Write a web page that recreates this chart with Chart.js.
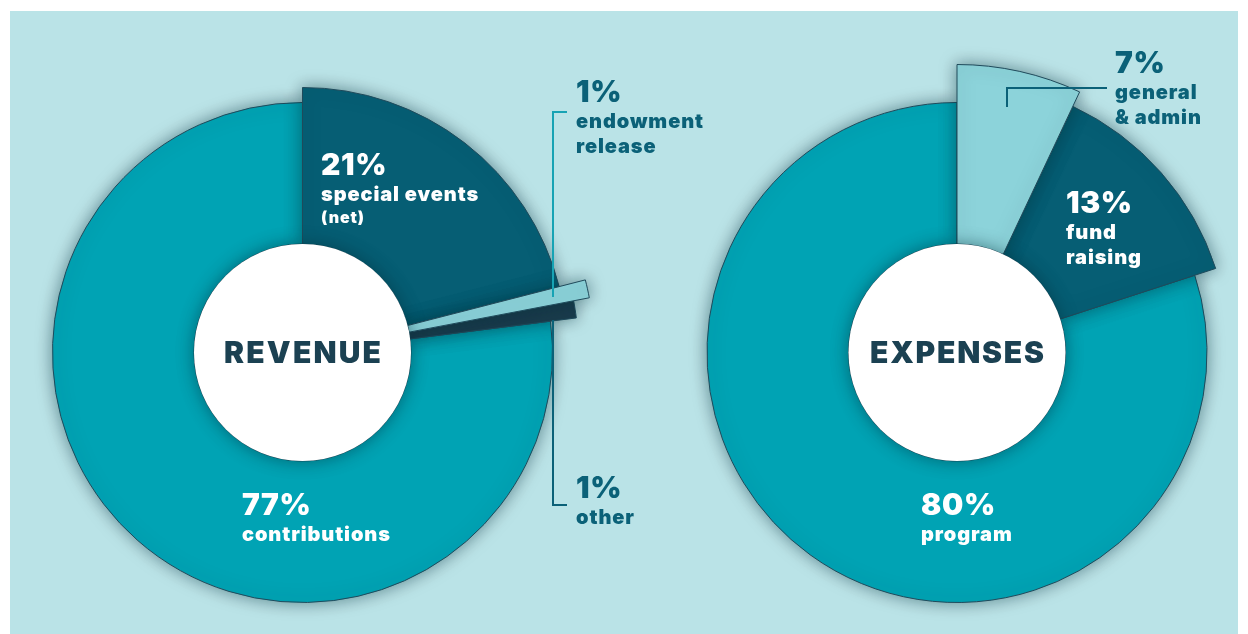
<!DOCTYPE html>
<html lang="en">
<head>
<meta charset="UTF-8">
<title>Revenue and Expenses</title>
<script src="https://cdn.jsdelivr.net/npm/chart.js"></script>
<style>
  html, body { margin: 0; padding: 0; background: #fff; }
  body { width: 1248px; height: 634px; position: relative; overflow: hidden; }
  .panel { position: absolute; left: 10px; top: 11px; width: 1228px; height: 623px; background: #bae3e7; }
  canvas { position: absolute; left: 0; top: 0; }
</style>
</head>
<body>
<div class="panel"></div>
<canvas id="revenueChart" width="1248" height="634"></canvas>
<canvas id="expensesChart" width="1248" height="634"></canvas>

<script>
// ---- data ----
const revenueTitle = 'REVENUE';
const revenueCategories = [['special events', '(net)'], ['endowment', 'release'], ['other'], ['contributions']];
const revenueValues = [21, 1, 1, 77];

const expensesTitle = 'EXPENSES';
const expensesCategories = [['general', '& admin'], ['fund', 'raising'], ['program']];
const expensesValues = [7, 13, 80];

// ---- look ----
const FONT = 'Inter, "Open Sans", sans-serif';
const WHITE = '#ffffff';
const DARK_TEAL = '#0b6178';

const revenueStyle = {
  colors: ['#065e74', '#8cd3da', '#1b3d4e', '#00a3b4'],
  radii: [265, 292, 276, 250],
  order: [3, 0, 2, 1],            // draw order, top-most last
  titleSpacing: 2.2,
  labels: [
    { x: 321, y: 175, color: WHITE },
    { x: 576, y: 102, color: DARK_TEAL, leader: [[567, 112], [553, 112], [553, 297]], leaderColor: '#17a3b4' },
    { x: 576, y: 498, color: DARK_TEAL, leader: [[553, 320], [553, 505], [567, 505]], leaderColor: DARK_TEAL },
    { x: 242, y: 515, color: WHITE }
  ]
};

const expensesStyle = {
  colors: ['#8cd3da', '#065e74', '#00a3b4'],
  radii: [288, 272, 250],
  order: [2, 1, 0],
  titleSpacing: 1.8,
  labels: [
    { x: 1115, y: 73, color: DARK_TEAL, leader: [[1107, 88], [1007, 88], [1007, 107]], leaderColor: DARK_TEAL },
    { x: 1066, y: 213, color: WHITE },
    { x: 921, y: 515, color: WHITE }
  ]
};

// per-slice radius, shadows, white hole, labels
const pieStyle = {
  id: 'pieStyle',
  afterDatasetsUpdate(chart, args, opts) {
    const meta = chart.getDatasetMeta(0);
    meta.data.forEach((arc, i) => { arc.outerRadius = opts.radii[i]; });
  },
  beforeDatasetDraw(chart, args, opts) {
    const ctx = chart.ctx;
    const arcs = args.meta.data;
    ctx.save();
    ctx.shadowColor = 'rgba(0, 45, 55, 0.5)';
    ctx.shadowBlur = 16;
    opts.order.forEach(i => arcs[i].draw(ctx));
    const a = arcs[0];
    ctx.beginPath();
    ctx.arc(a.x, a.y, a.innerRadius, 0, Math.PI * 2);
    ctx.fillStyle = '#ffffff';
    ctx.fill();
    ctx.restore();
    return false;
  },
  afterDraw(chart, args, opts) {
    const ctx = chart.ctx;
    const ds = chart.data.datasets[0];
    const arc = chart.getDatasetMeta(0).data[0];
    ctx.save();
    ctx.textBaseline = 'alphabetic';

    // center title
    ctx.textAlign = 'center';
    ctx.fillStyle = '#1b4152';
    ctx.font = '900 30px ' + FONT;
    ctx.letterSpacing = opts.titleSpacing + 'px';
    ctx.fillText(ds.label, arc.x + opts.titleSpacing / 2, arc.y + 10);

    ctx.textAlign = 'left';
    chart.data.labels.forEach((lines, i) => {
      const lab = opts.labels[i];
      if (lab.leader) {
        ctx.beginPath();
        lab.leader.forEach(([x, y], k) => k ? ctx.lineTo(x, y) : ctx.moveTo(x, y));
        ctx.strokeStyle = lab.leaderColor;
        ctx.lineWidth = 2;
        ctx.stroke();
      }
      ctx.fillStyle = lab.color;
      ctx.font = '900 30px ' + FONT;
      ctx.letterSpacing = '0.6px';
      ctx.fillText(ds.data[i] + '%', lab.x, lab.y);
      ctx.letterSpacing = '0.9px';
      let y = lab.y;
      lines.forEach((line, k) => {
        const small = line.startsWith('(');
        y += k === 0 ? 26 : (small ? 22 : 25);
        ctx.font = (small ? '900 16px ' : '900 20px ') + FONT;
        ctx.fillText(line, lab.x, y);
      });
    });
    ctx.restore();
  }
};

function makeChart(id, title, categories, values, style, padding) {
  return new Chart(document.getElementById(id), {
    type: 'doughnut',
    data: {
      labels: categories,
      datasets: [{
        label: title,
        data: values,
        backgroundColor: style.colors,
        borderColor: '#1f4a5b',
        borderWidth: 1,
        radius: 250,
        cutout: '43.4%',
        clip: false
      }]
    },
    options: {
      responsive: false,
      animation: false,
      events: [],
      layout: { padding: padding },
      plugins: {
        legend: { display: false },
        tooltip: { enabled: false },
        pieStyle: style
      }
    },
    plugins: [pieStyle]
  });
}

// chart areas chosen so the centres land at (302.5, 352.5) and (957, 352.5)
makeChart('revenueChart', revenueTitle, revenueCategories, revenueValues, revenueStyle,
  { left: 0, right: 643, top: 71, bottom: 0 });
makeChart('expensesChart', expensesTitle, expensesCategories, expensesValues, expensesStyle,
  { left: 666, right: 0, top: 71, bottom: 0 });
</script>
</body>
</html>
